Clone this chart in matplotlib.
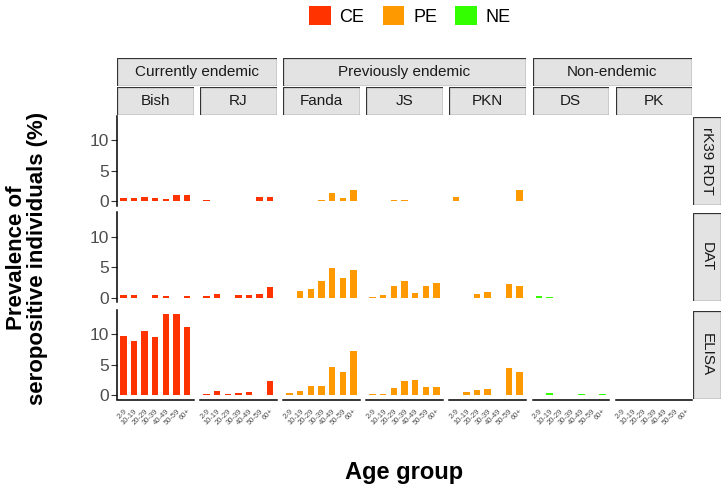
import numpy as np
import matplotlib
matplotlib.use('Agg')
import matplotlib.pyplot as plt
from matplotlib.patches import Rectangle, Patch

plt.rcParams['font.family'] = ['Liberation Sans', 'DejaVu Sans']

# ---- data ----
age_groups = ['2-9', '10-19', '20-29', '30-39', '40-49', '50-59', '60+']
sites = ['Bish', 'RJ', 'Fanda', 'JS', 'PKN', 'DS', 'PK']
site_endemicity = ['CE', 'CE', 'PE', 'PE', 'PE', 'NE', 'NE']
groups = ['Currently endemic', 'Previously endemic', 'Non-endemic']
group_codes = ['CE', 'PE', 'NE']
tests = ['rK39 RDT', 'DAT', 'ELISA']

# prevalence (%) per site (rows) and age group (cols)
rk39_rdt = [
    [0.6, 0.5, 0.8, 0.5, 0.4, 1.1, 1.0],
    [0.3, 0.1, 0, 0, 0, 0.7, 0.7],
    [0, 0, 0, 0.3, 1.4, 0.5, 1.9],
    [0, 0, 0.3, 0.3, 0, 0, 0],
    [0.8, 0, 0, 0, 0, 0, 1.9],
    [0, 0, 0, 0, 0, 0, 0],
    [0, 0, 0, 0, 0, 0, 0],
]
dat = [
    [0.5, 0.5, 0, 0.5, 0.35, 0, 0.3],
    [0.35, 0.65, 0, 0.55, 0.4, 0.6, 1.8],
    [0, 1.2, 1.4, 2.8, 4.9, 3.3, 4.5],
    [0.15, 0.5, 1.9, 2.7, 0.8, 1.9, 2.5],
    [0, 0, 0.7, 1.0, 0, 2.2, 1.9],
    [0.25, 0.2, 0, 0, 0, 0, 0],
    [0, 0, 0, 0, 0, 0, 0],
]
elisa = [
    [9.7, 8.9, 10.5, 9.5, 13.4, 13.3, 11.2],
    [0.2, 0.75, 0.3, 0.4, 0.5, 0, 2.3],
    [0.4, 0.8, 1.5, 1.6, 4.6, 3.9, 7.3],
    [0.27, 0.2, 1.25, 2.3, 2.45, 1.4, 1.35],
    [0, 0.6, 0.87, 1.1, 0, 4.5, 3.9],
    [0, 0.35, 0, 0, 0.25, 0, 0.3],
    [0, 0, 0, 0, 0, 0, 0],
]
test_values = [rk39_rdt, dat, elisa]

colors = {'CE': '#FF3300', 'PE': '#FF9900', 'NE': '#33FF00'}
strip_fill = '#E3E3E3'
strip_edge = '#333333'

# ---- layout (pixels) ----
W, H = 722, 487
fig = plt.figure(figsize=(W / 100, H / 100), dpi=100)

def px_box(x, y, w, h):
    return [x / W, 1 - (y + h) / H, w / W, h / H]

col_x0, col_step, col_w = 117, 83.1, 76.5
row_tops = [115.5, 212, 309.5]
row_h = 90

ymax = max(max(max(r) for r in t) for t in test_values)
x = np.arange(1, len(age_groups) + 1)

for ri, (test, vals) in enumerate(zip(tests, test_values)):
    for ci, site in enumerate(sites):
        ax = fig.add_axes(px_box(col_x0 + ci * col_step, row_tops[ri], col_w, row_h))
        ax.bar(x, vals[ci], width=0.6, color=colors[site_endemicity[ci]], linewidth=0)
        ax.set_xlim(0.4, 7.6)
        ax.set_ylim(-0.05 * ymax, 1.05 * ymax)
        for s in ['top', 'right']:
            ax.spines[s].set_visible(False)
        ax.spines['left'].set_visible(ci == 0)
        ax.spines['bottom'].set_visible(ri == 2)
        ax.spines['left'].set_linewidth(1.1)
        ax.spines['bottom'].set_linewidth(1.1)
        if ci == 0:
            ax.set_yticks([0, 5, 10])
            ax.tick_params(axis='y', length=4, width=0.8, color='#333333',
                           labelsize=12.5, labelcolor='#4D4D4D', pad=1.5)
        else:
            ax.set_yticks([])
        if ri == 2:
            ax.set_xticks(x)
            ax.set_xticklabels(age_groups, rotation=45, ha='right', va='top',
                               rotation_mode='anchor', fontsize=5.5, color='#4D4D4D')
            ax.tick_params(axis='x', length=0, pad=6)
        else:
            ax.set_xticks([])

    # right-hand strip for the test
    sax = fig.add_axes(px_box(693, row_tops[ri] + 1, 28, row_h - 2))
    sax.add_patch(Rectangle((0, 0), 1, 1, transform=sax.transAxes,
                            facecolor=strip_fill, edgecolor=strip_edge, linewidth=0.9))
    sax.text(0.5, 0.5, test, rotation=-90, ha='center', va='center',
             fontsize=11, color='#1A1A1A', transform=sax.transAxes)
    sax.axis('off')

# top strips: sites
for ci, site in enumerate(sites):
    sax = fig.add_axes(px_box(col_x0 + ci * col_step, 87, col_w, 28))
    sax.add_patch(Rectangle((0, 0), 1, 1, transform=sax.transAxes,
                            facecolor=strip_fill, edgecolor=strip_edge, linewidth=0.9))
    sax.text(0.5, 0.5, site, ha='center', va='center', fontsize=11,
             color='#1A1A1A', transform=sax.transAxes)
    sax.axis('off')

# top strips: endemicity groups
for g, code in zip(groups, group_codes):
    idx = [i for i, e in enumerate(site_endemicity) if e == code]
    x0 = col_x0 + idx[0] * col_step
    x1 = col_x0 + idx[-1] * col_step + col_w
    sax = fig.add_axes(px_box(x0, 58, x1 - x0, 28))
    sax.add_patch(Rectangle((0, 0), 1, 1, transform=sax.transAxes,
                            facecolor=strip_fill, edgecolor=strip_edge, linewidth=0.9))
    sax.text(0.5, 0.5, g, ha='center', va='center', fontsize=11,
             color='#1A1A1A', transform=sax.transAxes)
    sax.axis('off')

# legend
handles = [Patch(facecolor=colors[c], edgecolor='none', label=c) for c in group_codes]
fig.legend(handles=handles, loc='center', bbox_to_anchor=(410 / W, 1 - 16 / H),
           ncol=3, frameon=False, fontsize=13, handlelength=1.2, handleheight=1.2,
           handletextpad=0.5, columnspacing=1.0)

# axis titles
fig.text(27 / W, 1 - 258 / H, 'Prevalence of\nseropositive individuals (%)',
         rotation=90, ha='center', va='center', fontsize=16, fontweight='bold',
         linespacing=1.0)
fig.text(404 / W, 1 - 472 / H, 'Age group', ha='center', va='center',
         fontsize=17, fontweight='bold')

fig.savefig('out.png', dpi=100)
